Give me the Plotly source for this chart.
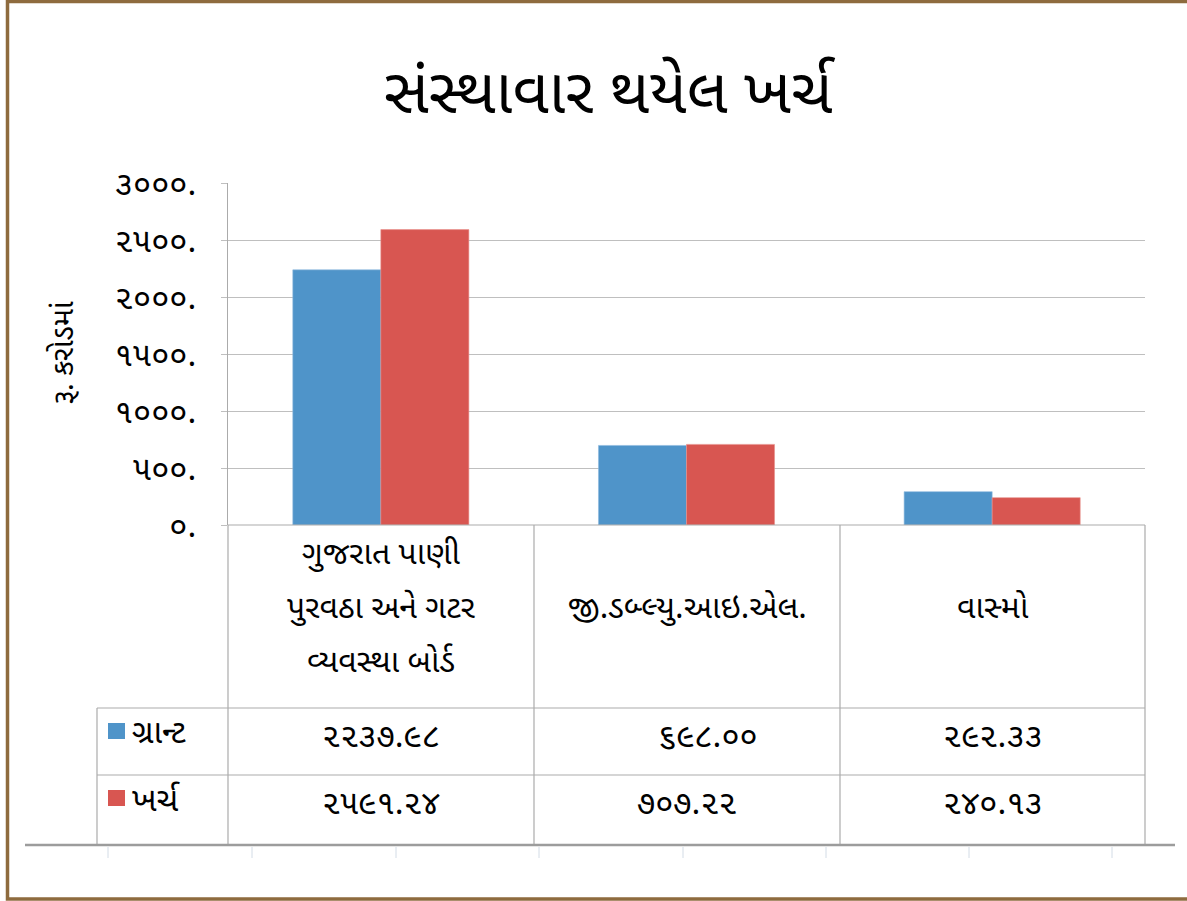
import plotly.graph_objects as go

# ---------------- data ----------------
categories = ["ગુજરાત પાણી<br>પુરવઠા અને ગટર<br>વ્યવસ્થા બોર્ડ", "જી.ડબ્લ્યુ.આઇ.એલ.", "વાસ્મો"]
series_names = ["ગ્રાન્ટ", "ખર્ચ"]
grant_values = [2237.98, 698.00, 292.33]
expense_values = [2591.24, 707.22, 240.13]
tick_values = [0, 500, 1000, 1500, 2000, 2500, 3000]
title_text = "સંસ્થાવાર થયેલ ખર્ચ"
y_title = "રૂ. કરોડમાં"

W, H = 1187, 901
GUJ = str.maketrans("0123456789", "૦૧૨૩૪૫૬૭૮૯")
def guj(s):
    return s.translate(GUJ)

tick_text = [guj(str(v)) + "." for v in tick_values]
FONT = "Shruti, Noto Sans Gujarati, Lohit Gujarati, Noto Sans, sans-serif"
BLUE = "#4F94C9"
RED = "#D85651"
LINE = "#ABABAB"

def px(x):
    return x / W
def py(y):
    return 1 - y / H

fig = go.Figure()
fig.add_bar(x=[0, 1, 2], y=grant_values, name=series_names[0], marker=dict(color=BLUE, line=dict(color="#8DB8DE", width=0.6)))
fig.add_bar(x=[0, 1, 2], y=expense_values, name=series_names[1], marker=dict(color=RED, line=dict(color="#E8908C", width=0.6)))

x0, x1, ytop, ybot = 228, 1145, 183, 525
fig.update_layout(
    template="none",
    width=W, height=H, margin=dict(l=0, r=0, t=0, b=0, pad=0, autoexpand=False),
    paper_bgcolor="white", plot_bgcolor="white",
    showlegend=False, barmode="group", bargap=0.424, bargroupgap=0,
    font=dict(family=FONT, color="#000000"),
    xaxis=dict(domain=[px(x0), px(x1)], range=[-0.5, 2.5], showticklabels=False, automargin=False,
               showgrid=False, zeroline=False, showline=False, fixedrange=True, ticks=""),
    yaxis=dict(domain=[py(ybot), py(ytop)], range=[0, 3000], tickvals=tick_values, ticktext=tick_text,
               automargin=False,
               tickfont=dict(size=33, family=FONT), showgrid=True, gridcolor="#BFBFBF", gridwidth=1,
               zeroline=False, showline=True, linecolor=LINE, linewidth=1,
               ticks="outside", ticklen=6, tickcolor="#BFBFBF", ticklabelstandoff=18),
)

shapes = []
def hline(xa, xb, y, w=1.2, c=LINE):
    shapes.append(dict(type="line", xref="paper", yref="paper", x0=px(xa), x1=px(xb), y0=py(y), y1=py(y), line=dict(color=c, width=w)))
def vline(x, ya, yb, w=1.2, c=LINE):
    shapes.append(dict(type="line", xref="paper", yref="paper", x0=px(x), x1=px(x), y0=py(ya), y1=py(yb), line=dict(color=c, width=w)))

# table grid
col_edges = [228, 534, 840, 1145]
for x in col_edges:
    vline(x, 525, 844)
vline(97, 708, 844)
hline(228, 1145, 525)
hline(97, 1145, 708)
hline(97, 1145, 775)
hline(25, 1175, 845, w=2.5, c="#9C9C9C")
for tx in [108, 252, 396, 539, 683, 826, 969, 1112]:
    vline(tx, 847, 858, w=1, c="#D3DCE6")

# legend swatches
for (yy, c) in [(731, BLUE), (798, RED)]:
    shapes.append(dict(type="rect", xref="paper", yref="paper", x0=px(108), x1=px(125), y0=py(yy - 8), y1=py(yy + 8), fillcolor=c, line=dict(width=0)))

# outer border
shapes.append(dict(type="rect", xref="paper", yref="paper", x0=px(7.5), x1=px(1195), y0=py(899), y1=py(1.5), line=dict(color="#8E6B3E", width=3.5), fillcolor="rgba(0,0,0,0)"))

annotations = []
def text(x, y, s, size=24, xanchor="center", **kw):
    annotations.append(dict(x=px(x), y=py(y), xref="paper", yref="paper", text=s, showarrow=False, xanchor=xanchor, yanchor="middle", font=dict(size=size, family=FONT, color="black"), **kw))

text(610, 97, title_text, size=63)
annotations.append(dict(x=px(65), y=py(353), xref="paper", yref="paper", text=y_title, showarrow=False, textangle=-90,
                        xanchor="center", yanchor="middle", font=dict(size=29, family=FONT, color="black")))

centers = [(col_edges[i] + col_edges[i + 1]) / 2 for i in range(3)]
for i, cat in enumerate(categories):
    lines = cat.split("<br>")
    n = len(lines)
    for j, ln in enumerate(lines):
        text(centers[i], 610 + (j - (n - 1) / 2) * 54, ln, size=32)
    text(centers[i] + (21 if i == 1 else 0), 738, guj(f"{grant_values[i]:.2f}"), size=33)
    text(centers[i], 805, guj(f"{expense_values[i]:.2f}"), size=33)
text(130, 734, series_names[0], size=33, xanchor="left")
text(130, 802, series_names[1], size=33, xanchor="left")

fig.update_layout(shapes=shapes, annotations=annotations)
fig.write_html("out.html", config={"displayModeBar": False},
               post_script="document.body.style.margin='0';document.body.style.overflow='hidden';")
